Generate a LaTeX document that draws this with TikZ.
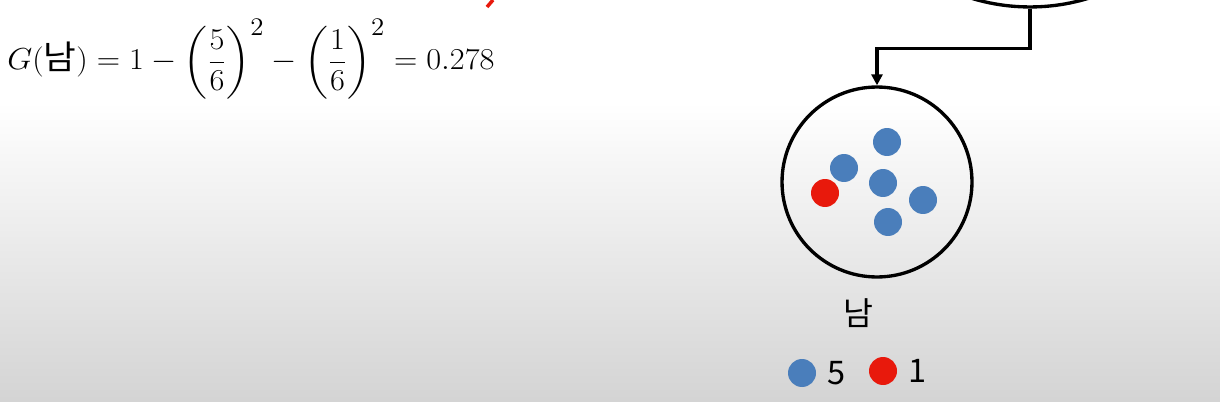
\documentclass[tikz,border=0pt]{standalone}
\usepackage{fontspec}
\usepackage{amsmath}
\usepackage{graphicx}
\newfontfamily\krfont{Noto Sans CJK KR}
\usetikzlibrary{arrows.meta,positioning}
\definecolor{dotblue}{HTML}{4A7EBB}
\definecolor{dotred}{HTML}{E8190C}

\begin{document}
\begin{tikzpicture}[
   x=0.02cm, y=-0.02cm,
   bag/.style={circle, draw=black, line width=1.9pt, inner sep=0pt},
   ball/.style={circle, inner sep=0pt, minimum size=0.56cm},
   blueball/.style={ball, fill=dotblue},
   redball/.style={ball, fill=dotred},
   lbl/.style={font=\krfont\fontsize{18.5}{22}\selectfont, inner sep=1pt},
   arr/.style={-{Triangle[length=2.2mm, width=2.2mm]}, line width=1.9pt}
]
\useasboundingbox (0,0) rectangle (1220,402);
\clip (0,0) rectangle (1220,402);
% background
\fill[white] (0,0) rectangle (1220,104);
\shade[top color=white, bottom color=black!17] (0,102) rectangle (1220,402);
% formula
\node[anchor=west, inner sep=0pt] (gini) at (7,59)
   {\scalebox{1.065}[1]{\fontsize{19}{23}\selectfont
    $G(\text{\krfont 남}) = 1-\left(\dfrac{5}{6}\right)^{2}-\left(\dfrac{1}{6}\right)^{2} = 0.278$}};
\draw[dotred, line width=2pt] (487,7) -- (493,0);
% tree
\node[bag, minimum size=8cm] (root) at (1030,-193) {};
\node[bag, minimum size=3.8cm] (male) at (877,182) {};
\draw[arr] (root.south) -- ++(0,40) -| (male.north);
% members
\node[blueball] (b1) at (887,142) {};
\node[blueball] (b2) at (844,168) {};
\node[blueball] (b3) at (883,183) {};
\node[blueball] (b4) at (923,200) {};
\node[blueball] (b5) at (888,222) {};
\node[redball] (r1) at (825,193) {};
% legend
\node[lbl] (name) at (858,313) {남};
\node[blueball] (kb) at (802,373) {};
\node[lbl, right=5pt of kb] (nb) {5};
\node[redball] (kr) at (883,371) {};
\node[lbl, right=5pt of kr] (nr) {1};
\end{tikzpicture}
\end{document}
